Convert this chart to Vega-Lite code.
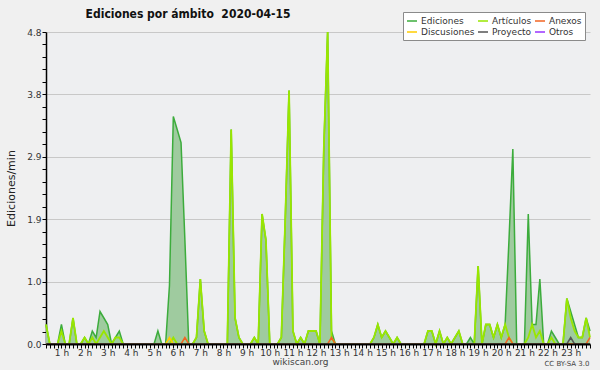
{
"$schema": "https://vega.github.io/schema/vega-lite/v6.json",
"autosize": {"type": "none"},
"padding": {"left": 46, "top": 32, "right": 10, "bottom": 26},
"width": 544,
"height": 312,
"background": "#f0f0f0",
"config": {"view": {"fill": "#eeeff1", "stroke": null}, "font": "DejaVu Sans"},
"title": {"text": "Ediciones por ámbito\u00a0 2020-04-15", "font": "DejaVu Sans Condensed", "fontWeight": "bold", "fontSize": 12, "anchor": "middle", "dx": -130, "dy": 22, "offset": 13, "color": "#111111"},
"data": {"values": [
{"m":20,"E":0.3,"A":0.3,"X":0,"D":0,"P":0},
{"m":30,"E":0,"A":0,"X":0,"D":0,"P":0},
{"m":40,"E":0,"A":0,"X":0,"D":0,"P":0},
{"m":50,"E":0,"A":0,"X":0,"D":0,"P":0},
{"m":60,"E":0.3,"A":0.2,"X":0,"D":0,"P":0},
{"m":70,"E":0,"A":0,"X":0,"D":0,"P":0},
{"m":80,"E":0,"A":0,"X":0,"D":0,"P":0},
{"m":90,"E":0.4,"A":0.4,"X":0,"D":0,"P":0},
{"m":100,"E":0,"A":0,"X":0,"D":0,"P":0},
{"m":110,"E":0,"A":0,"X":0,"D":0,"P":0},
{"m":120,"E":0.1,"A":0.1,"X":0,"D":0,"P":0},
{"m":130,"E":0,"A":0,"X":0,"D":0,"P":0},
{"m":140,"E":0.2,"A":0.1,"X":0,"D":0,"P":0},
{"m":150,"E":0.1,"A":0,"X":0,"D":0,"P":0},
{"m":160,"E":0.5,"A":0.1,"X":0,"D":0,"P":0},
{"m":170,"E":0.4,"A":0.2,"X":0,"D":0,"P":0},
{"m":180,"E":0.3,"A":0.1,"X":0,"D":0,"P":0},
{"m":190,"E":0,"A":0,"X":0,"D":0,"P":0},
{"m":200,"E":0.1,"A":0.1,"X":0,"D":0,"P":0},
{"m":210,"E":0.2,"A":0.1,"X":0,"D":0,"P":0},
{"m":220,"E":0,"A":0,"X":0,"D":0,"P":0},
{"m":230,"E":0,"A":0,"X":0,"D":0,"P":0},
{"m":240,"E":0,"A":0,"X":0,"D":0,"P":0},
{"m":250,"E":0,"A":0,"X":0,"D":0,"P":0},
{"m":260,"E":0,"A":0,"X":0,"D":0,"P":0},
{"m":270,"E":0,"A":0,"X":0,"D":0,"P":0},
{"m":280,"E":0,"A":0,"X":0,"D":0,"P":0},
{"m":290,"E":0,"A":0,"X":0,"D":0,"P":0},
{"m":300,"E":0,"A":0,"X":0,"D":0,"P":0},
{"m":310,"E":0.2,"A":0,"X":0,"D":0,"P":0},
{"m":320,"E":0,"A":0,"X":0,"D":0,"P":0},
{"m":330,"E":0,"A":0,"X":0,"D":0,"P":0},
{"m":340,"E":0.9,"A":0,"X":0,"D":0.1,"P":0},
{"m":350,"E":3.5,"A":0.1,"X":0,"D":0,"P":0},
{"m":360,"E":3.3,"A":0,"X":0,"D":0,"P":0},
{"m":370,"E":3.1,"A":0,"X":0,"D":0,"P":0},
{"m":380,"E":1.6,"A":0,"X":0.1,"D":0,"P":0},
{"m":390,"E":0,"A":0,"X":0,"D":0,"P":0},
{"m":400,"E":0,"A":0,"X":0,"D":0,"P":0},
{"m":410,"E":0.1,"A":0.1,"X":0,"D":0,"P":0},
{"m":420,"E":1.0,"A":1.0,"X":0,"D":0,"P":0},
{"m":430,"E":0.2,"A":0.2,"X":0,"D":0,"P":0},
{"m":440,"E":0,"A":0,"X":0,"D":0,"P":0},
{"m":450,"E":0,"A":0,"X":0,"D":0,"P":0},
{"m":460,"E":0,"A":0,"X":0,"D":0,"P":0},
{"m":470,"E":0,"A":0,"X":0,"D":0,"P":0},
{"m":480,"E":0,"A":0,"X":0,"D":0,"P":0},
{"m":490,"E":0,"A":0,"X":0,"D":0,"P":0},
{"m":500,"E":3.3,"A":3.3,"X":0,"D":0,"P":0},
{"m":510,"E":0.4,"A":0.4,"X":0,"D":0,"P":0},
{"m":520,"E":0.1,"A":0.1,"X":0,"D":0,"P":0},
{"m":530,"E":0,"A":0,"X":0,"D":0,"P":0},
{"m":540,"E":0,"A":0,"X":0,"D":0,"P":0},
{"m":550,"E":0,"A":0,"X":0,"D":0,"P":0},
{"m":560,"E":0.1,"A":0.1,"X":0,"D":0,"P":0},
{"m":570,"E":0,"A":0,"X":0,"D":0,"P":0},
{"m":580,"E":2.0,"A":2.0,"X":0,"D":0,"P":0},
{"m":590,"E":1.6,"A":1.6,"X":0,"D":0,"P":0},
{"m":600,"E":0,"A":0,"X":0,"D":0,"P":0},
{"m":610,"E":0,"A":0,"X":0,"D":0,"P":0},
{"m":620,"E":0,"A":0,"X":0,"D":0,"P":0},
{"m":630,"E":0.1,"A":0.1,"X":0,"D":0,"P":0},
{"m":640,"E":1.9,"A":1.9,"X":0,"D":0,"P":0},
{"m":650,"E":3.9,"A":3.9,"X":0,"D":0,"P":0},
{"m":660,"E":0.2,"A":0.2,"X":0,"D":0,"P":0},
{"m":670,"E":0,"A":0,"X":0,"D":0,"P":0},
{"m":680,"E":0.1,"A":0.1,"X":0,"D":0,"P":0},
{"m":690,"E":0,"A":0,"X":0,"D":0,"P":0},
{"m":700,"E":0.2,"A":0.2,"X":0,"D":0,"P":0},
{"m":710,"E":0.2,"A":0.2,"X":0,"D":0,"P":0},
{"m":720,"E":0.2,"A":0.2,"X":0,"D":0,"P":0},
{"m":730,"E":0,"A":0,"X":0,"D":0,"P":0},
{"m":740,"E":3.0,"A":3.0,"X":0,"D":0,"P":0},
{"m":750,"E":4.8,"A":4.8,"X":0,"D":0,"P":0},
{"m":760,"E":0.2,"A":0.1,"X":0.1,"D":0,"P":0},
{"m":770,"E":0,"A":0,"X":0,"D":0,"P":0},
{"m":780,"E":0,"A":0,"X":0,"D":0,"P":0},
{"m":790,"E":0,"A":0,"X":0,"D":0,"P":0},
{"m":800,"E":0,"A":0,"X":0,"D":0,"P":0},
{"m":810,"E":0,"A":0,"X":0,"D":0,"P":0},
{"m":820,"E":0,"A":0,"X":0,"D":0,"P":0},
{"m":830,"E":0,"A":0,"X":0,"D":0,"P":0},
{"m":840,"E":0,"A":0,"X":0,"D":0,"P":0},
{"m":850,"E":0,"A":0,"X":0,"D":0,"P":0},
{"m":860,"E":0,"A":0,"X":0,"D":0,"P":0},
{"m":870,"E":0.1,"A":0.1,"X":0,"D":0,"P":0},
{"m":880,"E":0.3,"A":0.3,"X":0,"D":0,"P":0},
{"m":890,"E":0.1,"A":0.1,"X":0,"D":0,"P":0},
{"m":900,"E":0.2,"A":0.2,"X":0,"D":0,"P":0},
{"m":910,"E":0.1,"A":0.1,"X":0,"D":0,"P":0},
{"m":920,"E":0,"A":0,"X":0,"D":0,"P":0},
{"m":930,"E":0.1,"A":0.1,"X":0,"D":0,"P":0},
{"m":940,"E":0,"A":0,"X":0,"D":0,"P":0},
{"m":950,"E":0,"A":0,"X":0,"D":0,"P":0},
{"m":960,"E":0,"A":0,"X":0,"D":0,"P":0},
{"m":970,"E":0,"A":0,"X":0,"D":0,"P":0},
{"m":980,"E":0,"A":0,"X":0,"D":0,"P":0},
{"m":990,"E":0,"A":0,"X":0,"D":0,"P":0},
{"m":1000,"E":0,"A":0,"X":0,"D":0,"P":0},
{"m":1010,"E":0.2,"A":0.2,"X":0,"D":0,"P":0},
{"m":1020,"E":0.2,"A":0.2,"X":0,"D":0,"P":0},
{"m":1030,"E":0,"A":0,"X":0,"D":0,"P":0},
{"m":1040,"E":0.2,"A":0.2,"X":0,"D":0,"P":0},
{"m":1050,"E":0,"A":0,"X":0,"D":0,"P":0},
{"m":1060,"E":0.1,"A":0.1,"X":0,"D":0,"P":0},
{"m":1070,"E":0,"A":0,"X":0,"D":0,"P":0},
{"m":1080,"E":0.1,"A":0.1,"X":0,"D":0,"P":0},
{"m":1090,"E":0.2,"A":0.2,"X":0,"D":0,"P":0},
{"m":1100,"E":0,"A":0,"X":0,"D":0,"P":0},
{"m":1110,"E":0,"A":0,"X":0,"D":0,"P":0},
{"m":1120,"E":0.1,"A":0,"X":0,"D":0,"P":0},
{"m":1130,"E":0,"A":0,"X":0,"D":0,"P":0},
{"m":1140,"E":1.2,"A":1.2,"X":0,"D":0,"P":0},
{"m":1150,"E":0,"A":0,"X":0,"D":0,"P":0},
{"m":1160,"E":0.3,"A":0.3,"X":0,"D":0,"P":0},
{"m":1170,"E":0.3,"A":0.3,"X":0,"D":0,"P":0},
{"m":1180,"E":0.1,"A":0.1,"X":0,"D":0,"P":0},
{"m":1190,"E":0.3,"A":0.3,"X":0,"D":0,"P":0},
{"m":1200,"E":0.1,"A":0.1,"X":0,"D":0,"P":0},
{"m":1210,"E":0.3,"A":0.3,"X":0,"D":0,"P":0},
{"m":1220,"E":1.6,"A":0.1,"X":0.1,"D":0,"P":0},
{"m":1230,"E":3.0,"A":0,"X":0,"D":0,"P":0},
{"m":1240,"E":0,"A":0,"X":0,"D":0,"P":0},
{"m":1250,"E":0,"A":0,"X":0,"D":0,"P":0},
{"m":1260,"E":0,"A":0,"X":0,"D":0,"P":0},
{"m":1270,"E":2.0,"A":0.1,"X":0,"D":0,"P":0},
{"m":1280,"E":0.3,"A":0.3,"X":0,"D":0,"P":0},
{"m":1290,"E":0.3,"A":0.1,"X":0,"D":0,"P":0},
{"m":1300,"E":1.0,"A":0.2,"X":0,"D":0,"P":0},
{"m":1310,"E":0,"A":0,"X":0,"D":0,"P":0},
{"m":1320,"E":0,"A":0,"X":0,"D":0,"P":0},
{"m":1330,"E":0.2,"A":0.1,"X":0,"D":0,"P":0},
{"m":1340,"E":0.1,"A":0,"X":0,"D":0,"P":0},
{"m":1350,"E":0,"A":0,"X":0,"D":0,"P":0},
{"m":1360,"E":0,"A":0,"X":0,"D":0,"P":0},
{"m":1370,"E":0.7,"A":0.7,"X":0,"D":0,"P":0},
{"m":1380,"E":0.5,"A":0.4,"X":0,"D":0,"P":0.1},
{"m":1390,"E":0.3,"A":0.2,"X":0,"D":0,"P":0},
{"m":1400,"E":0.1,"A":0.1,"X":0,"D":0,"P":0},
{"m":1410,"E":0.1,"A":0.1,"X":0,"D":0,"P":0},
{"m":1420,"E":0.4,"A":0.4,"X":0,"D":0,"P":0},
{"m":1430,"E":0.2,"A":0.1,"X":0.1,"D":0,"P":0}
]},
"layer": [
{"mark": {"type": "area", "fill": "#9fcb9f", "opacity": 1},
 "encoding": {
  "x": {"field": "m", "type": "quantitative", "scale": {"domain": [20, 1430], "nice": false, "zero": false},
   "axis": {"tickCount": 141, "labelExpr": "datum.value % 60 == 0 ? (datum.value / 60) + ' h' : ''", "labelOverlap": false, "labelFlush": false, "labelBound": false, "domainColor": "#000000", "domainWidth": 2, "tickColor": "#000000", "tickSize": 4, "tickWidth": 1, "labelFont": "DejaVu Sans", "labelFontSize": 9, "labelColor": "#333333", "labelPadding": 0, "grid": false, "title": "wikiscan.org", "titleFont": "DejaVu Sans", "titleFontSize": 9, "titleFontWeight": "normal", "titleColor": "#444444", "titleX": 254, "titleY": 20, "titleAlign": "center", "titleBaseline": "alphabetic", "zindex": 1}},
  "y": {"field": "E", "type": "quantitative", "title": "Ediciones/min", "scale": {"domain": [0, 4.8], "nice": false},
   "axis": {"values": [0,0.192,0.384,0.576,0.768,0.96,1.152,1.344,1.536,1.728,1.92,2.112,2.304,2.496,2.688,2.88,3.072,3.264,3.456,3.648,3.84,4.032,4.224,4.416,4.608,4.8],
    "tickCount": 40,
    "labelExpr": "indexof([0, 0.96, 1.92, 2.88, 3.84, 4.8], datum.value) >= 0 ? format(datum.value, '.1f') : ''",
    "grid": true,
    "gridOpacity": {"condition": {"test": "indexof([0.96, 1.92, 2.88, 3.84, 4.8], datum.value) >= 0", "value": 1}, "value": 0},
    "gridColor": "#c8c8c8", "gridWidth": 1, "domainColor": "#000000", "domainWidth": 1.5, "tickColor": "#000000", "tickSize": 4, "tickWidth": 1,
    "labelFont": "DejaVu Sans", "labelFontSize": 9, "labelColor": "#333333", "labelPadding": 1, "labelOverlap": false, "labelFlush": false,
    "titleFont": "DejaVu Sans", "titleFontSize": 11, "titleFontWeight": "normal", "titleColor": "#222222", "titlePadding": 10, "zindex": 0}}
 }},
{"mark": {"type": "line", "strokeWidth": 1.5},
 "encoding": {
  "x": {"field": "m", "type": "quantitative", "axis": null},
  "y": {"field": "E", "type": "quantitative", "title": "Ediciones/min"},
  "color": {"datum": "Ediciones", "type": "nominal",
   "scale": {"domain": ["Ediciones", "Artículos", "Anexos", "Discusiones", "Proyecto", "Otros"], "range": ["#3cac3c", "#99e600", "#f26522", "#ffcc00", "#555555", "#9933ff"]},
   "legend": {"orient": "none", "legendX": 357, "legendY": -20, "direction": "horizontal", "columns": 3, "title": null, "symbolType": "stroke", "symbolSize": 100, "symbolStrokeWidth": 1.5, "labelFont": "DejaVu Sans", "labelFontSize": 9, "labelColor": "#333333", "fillColor": "#ffffff", "strokeColor": "#8a8a8a", "padding": 3, "rowPadding": 0, "columnPadding": 0, "labelOffset": 3}}
 }},
{"mark": {"type": "line", "strokeWidth": 1.8},
 "encoding": {
  "x": {"field": "m", "type": "quantitative", "axis": null},
  "y": {"field": "A", "type": "quantitative", "title": "Ediciones/min"},
  "color": {"datum": "Artículos", "type": "nominal"}
 }},
{"mark": {"type": "line", "strokeWidth": 1.5},
 "encoding": {
  "x": {"field": "m", "type": "quantitative", "axis": null},
  "y": {"field": "D", "type": "quantitative", "title": "Ediciones/min"},
  "color": {"datum": "Discusiones", "type": "nominal"}
 }},
{"mark": {"type": "line", "strokeWidth": 1.5},
 "encoding": {
  "x": {"field": "m", "type": "quantitative", "axis": null},
  "y": {"field": "X", "type": "quantitative", "title": "Ediciones/min"},
  "color": {"datum": "Anexos", "type": "nominal"}
 }},
{"mark": {"type": "line", "strokeWidth": 1.5},
 "encoding": {
  "x": {"field": "m", "type": "quantitative",
   "axis": {"orient": "bottom", "domain": false, "ticks": false, "labels": false, "grid": false, "title": "CC BY-SA 3.0", "titleFont": "DejaVu Sans", "titleFontSize": 7, "titleFontWeight": "normal", "titleColor": "#444444", "titleX": 543, "titleY": 21, "titleAlign": "right", "titleBaseline": "alphabetic"}},
  "y": {"field": "P", "type": "quantitative", "title": "Ediciones/min"},
  "color": {"datum": "Proyecto", "type": "nominal"}
 }}
],
"resolve": {"axis": {"x": "independent"}}
}
